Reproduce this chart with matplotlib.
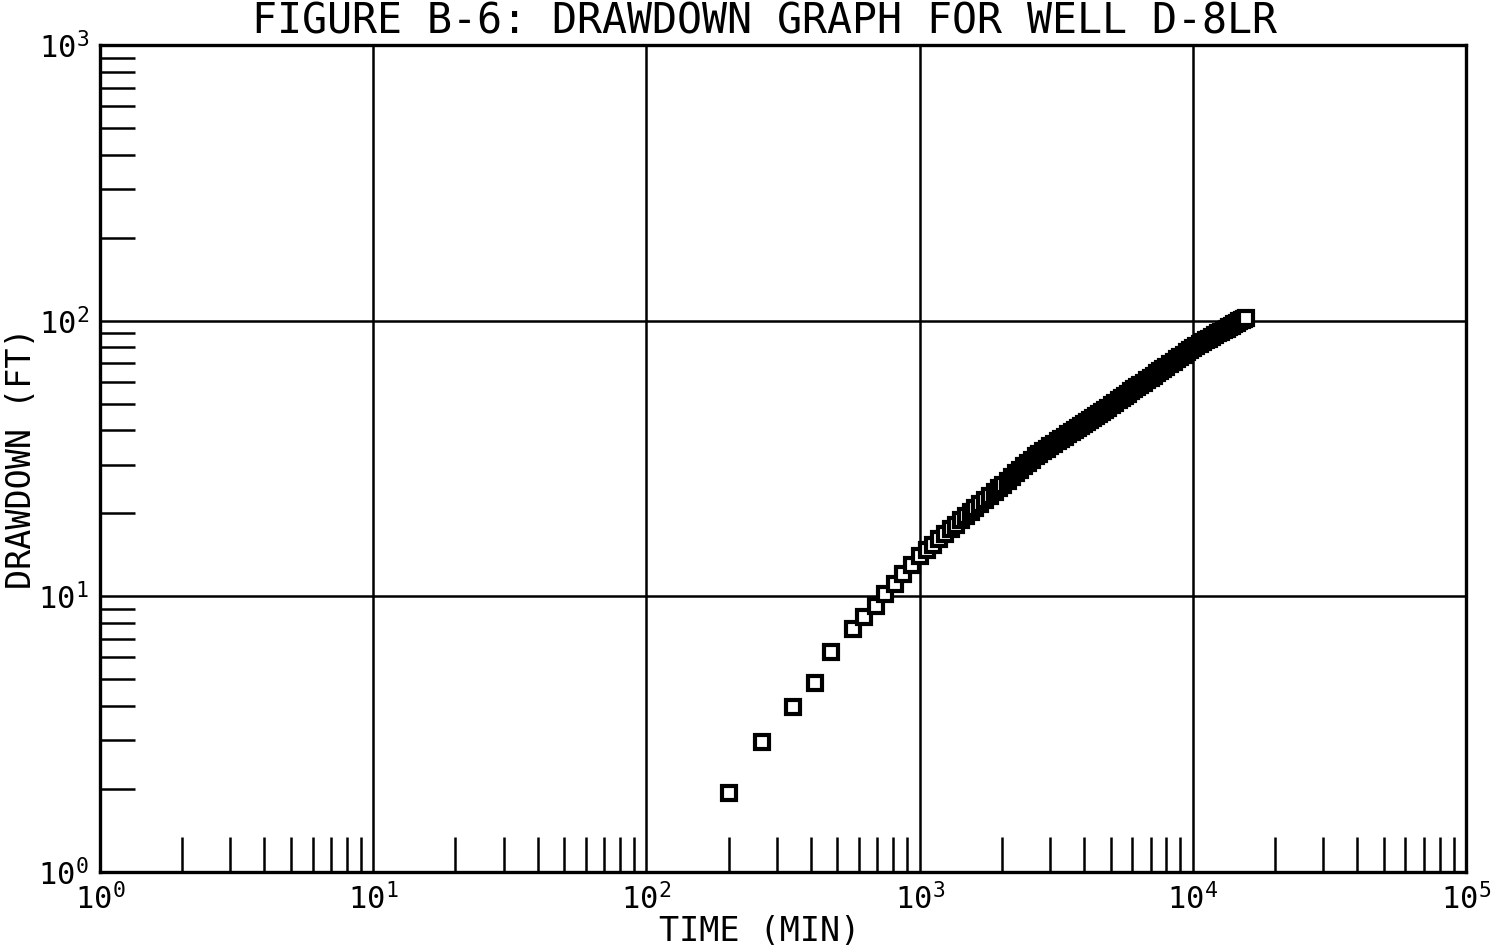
import math
import matplotlib
matplotlib.use("Agg")
import matplotlib.pyplot as plt
from matplotlib.ticker import LogLocator, FuncFormatter, NullFormatter

# drawdown test data
time_min = [
    200, 265, 345, 415, 475, 570, 625, 690, 745, 810,
    870, 935, 1000, 1060, 1120, 1180, 1240, 1300, 1360, 1420,
    1480, 1540, 1600, 1670, 1740, 1810, 1880, 1950, 2020, 2100,
    2180, 2260, 2340, 2420, 2500, 2580, 2660, 2740, 2830, 2920,
    3010, 3100, 3200, 3300, 3400, 3500, 3600, 3700, 3800, 3900,
    4000, 4100, 4200, 4300, 4420, 4540, 4660, 4780, 4900, 5050,
    5200, 5350, 5500, 5650, 5800, 5950, 6100, 6250, 6400, 6600,
    6800, 7000, 7200, 7400, 7600, 7800, 8000, 8250, 8500, 8750,
    9000, 9250, 9500, 9750, 10000, 10300, 10600, 10900, 11200, 11500,
    11800, 12100, 12400, 12700, 13000, 13300, 13600, 13900, 14200, 14500,
    14800, 15100, 15400, 15600,
]
drawdown_ft = [
    1.93, 2.96, 3.97, 4.83, 6.27, 7.63, 8.44, 9.22, 10.2, 11.06,
    12.0, 13.0, 14.0, 14.7, 15.4, 16.1, 16.8, 17.5, 18.2, 18.9,
    19.5, 20.2, 20.9, 21.6, 22.4, 23.2, 23.9, 24.7, 25.4, 26.3,
    27.2, 28.0, 28.8, 29.7, 30.5, 31.3, 32.2, 32.9, 33.6, 34.3,
    35.0, 35.7, 36.5, 37.2, 37.9, 38.7, 39.4, 40.1, 40.8, 41.5,
    42.2, 42.9, 43.6, 44.2, 45.1, 45.9, 46.7, 47.6, 48.4, 49.4,
    50.4, 51.4, 52.4, 53.4, 54.4, 55.4, 56.3, 57.3, 58.3, 59.5,
    60.8, 62.0, 63.2, 64.4, 65.6, 66.8, 68.0, 69.5, 71.0, 72.4,
    73.9, 75.3, 76.7, 78.1, 79.5, 80.9, 82.2, 83.5, 84.8, 86.1,
    87.4, 88.6, 89.9, 91.1, 92.3, 93.5, 94.7, 95.9, 97.0, 98.2,
    99.4, 100.5, 101.7, 102.4,
]

title = "FIGURE B-6: DRAWDOWN GRAPH FOR WELL D-8LR"

plt.rcParams["font.family"] = "DejaVu Sans Mono"
plt.rcParams["mathtext.fontset"] = "dejavusans"

fig = plt.figure(figsize=(15.1, 9.47), dpi=100)
ax = fig.add_axes([0.0662, 0.0792, 0.9047, 0.8733])

ax.set_xscale("log")
ax.set_yscale("log")
ax.set_xlim(1, 1e5)
ax.set_ylim(1, 1e3)

ax.grid(True, which="major", color="black", linewidth=1.8)
ax.set_axisbelow(True)

ax.plot(time_min, drawdown_ft, linestyle="none", marker="s", markersize=10.5,
        markerfacecolor="white", markeredgecolor="black", markeredgewidth=3,
        zorder=3)

for side in ax.spines.values():
    side.set_linewidth(2.4)


def decade_label(v, pos):
    return r"$\mathregular{10^{%d}}$" % round(math.log10(v))


ax.xaxis.set_major_locator(LogLocator(base=10, numticks=10))
ax.yaxis.set_major_locator(LogLocator(base=10, numticks=10))
ax.xaxis.set_minor_locator(LogLocator(base=10, subs=range(2, 10), numticks=20))
ax.yaxis.set_minor_locator(LogLocator(base=10, subs=range(2, 10), numticks=20))
ax.xaxis.set_major_formatter(FuncFormatter(decade_label))
ax.yaxis.set_major_formatter(FuncFormatter(decade_label))
ax.xaxis.set_minor_formatter(NullFormatter())
ax.yaxis.set_minor_formatter(NullFormatter())

ax.tick_params(which="major", length=0, labelsize=22, pad=8)
ax.tick_params(which="minor", direction="in", length=25, width=1.8,
               top=False, right=False)

ax.set_xlabel("TIME (MIN)", fontsize=24, labelpad=-4)
ax.xaxis.set_label_coords(0.483, -0.052)
ax.set_ylabel("DRAWDOWN (FT)", fontsize=24, labelpad=0)

fig.text(0.506, 1 - 1 / 947, title, fontsize=30, ha="center", va="top")

fig.savefig("out.png", dpi=100)
